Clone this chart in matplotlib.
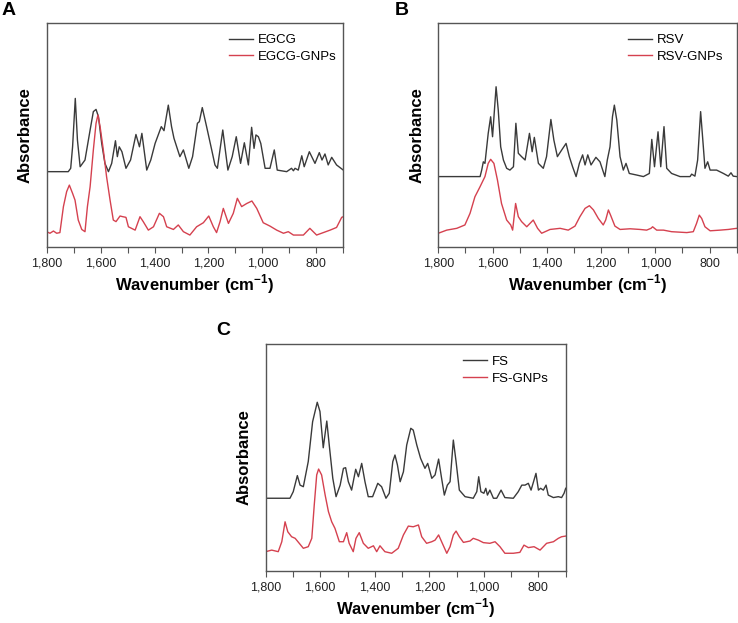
import matplotlib
matplotlib.use("Agg")
import matplotlib.pyplot as plt
from matplotlib.ticker import MultipleLocator, FuncFormatter

plt.rcParams['font.family'] = ['Liberation Sans', 'DejaVu Sans']
plt.rcParams['mathtext.fontset'] = 'custom'
plt.rcParams['mathtext.rm'] = 'Liberation Sans'
plt.rcParams['mathtext.bf'] = 'Liberation Sans:bold'

# --- Panel A: EGCG ---
egcg_wn = [1800, 1720, 1711, 1704, 1694, 1686, 1676, 1658, 1639, 1627, 1617, 1608, 1596, 1584,
           1571, 1559, 1545, 1538, 1531, 1521, 1506, 1489, 1469, 1456, 1447, 1429, 1414, 1398,
           1375, 1365, 1349, 1337, 1328, 1316, 1306, 1293, 1273, 1259, 1241, 1234, 1223, 1207,
           1188, 1176, 1167, 1147, 1128, 1112, 1097, 1081, 1067, 1052, 1040, 1031, 1024, 1015,
           1006, 990, 972, 956, 945, 910, 892, 885, 879, 867, 854, 845, 826, 805, 789, 779, 768,
           756, 743, 725, 700]
egcg_abs = [33.5, 33.5, 35.0, 44.6, 66.2, 47.6, 35.7, 38.7, 52.1, 60.3, 61.3, 58.0, 46.1, 37.2,
            33.5, 37.2, 47.3, 40.2, 44.6, 42.4, 35.0, 38.7, 50.1, 44.6, 50.6, 34.2, 38.7, 46.1,
            53.6, 51.8, 63.2, 53.6, 48.4, 43.9, 40.2, 43.2, 35.0, 40.2, 55.1, 55.8, 62.1, 53.6,
            43.2, 36.5, 35.0, 52.1, 34.2, 40.2, 49.1, 37.2, 46.4, 36.5, 53.3, 43.9, 49.9, 49.1,
            46.1, 35.0, 35.0, 43.2, 34.2, 33.5, 35.0, 33.9, 35.0, 34.2, 40.6, 35.7, 42.4, 37.2,
            42.0, 38.7, 41.4, 36.5, 39.9, 36.5, 34.2]

egcg_gnp_wn = [1800, 1788, 1775, 1763, 1751, 1738, 1726, 1716, 1704, 1695, 1683, 1670, 1658, 1649,
               1639, 1627, 1617, 1610, 1602, 1590, 1578, 1565, 1553, 1543, 1528, 1518, 1506, 1497,
               1472, 1454, 1442, 1423, 1404, 1382, 1367, 1355, 1330, 1312, 1293, 1269, 1244, 1219,
               1199, 1182, 1170, 1157, 1145, 1126, 1108, 1093, 1077, 1058, 1039, 1021, 997, 972,
               947, 922, 904, 885, 848, 824, 799, 774, 749, 725, 706, 700]
egcg_gnp_abs = [6.7, 6.0, 7.0, 6.0, 6.3, 17.9, 24.6, 27.5, 23.8, 20.8, 11.9, 7.7, 6.7, 17.9,
                26.8, 43.2, 55.1, 58.8, 53.6, 43.2, 31.3, 20.8, 11.9, 11.2, 13.7, 13.4, 13.1, 8.9,
                7.4, 13.4, 11.2, 7.4, 8.9, 14.9, 13.4, 8.9, 7.7, 9.7, 6.7, 5.2, 8.9, 10.7,
                13.7, 8.9, 6.3, 11.2, 17.1, 10.4, 14.9, 21.6, 17.9, 19.3, 20.4, 17.1, 10.7, 9.2,
                7.4, 6.0, 6.7, 5.2, 5.2, 8.2, 5.2, 6.3, 7.4, 8.6, 13.1, 13.4]

# --- Panel B: RSV ---
rsv_wn = [1800, 1646, 1640, 1634, 1628, 1616, 1607, 1600, 1587, 1579, 1570, 1560, 1548, 1536,
          1523, 1514, 1505, 1493, 1480, 1464, 1454, 1446, 1431, 1413, 1401, 1385, 1374, 1361,
          1345, 1329, 1317, 1305, 1292, 1280, 1268, 1259, 1249, 1237, 1219, 1204, 1186, 1177,
          1167, 1158, 1151, 1142, 1130, 1118, 1108, 1096, 1069, 1044, 1022, 1013, 1003, 990,
          980, 968, 958, 940, 909, 872, 866, 854, 844, 833, 823, 817, 807, 798, 774, 749, 731,
          721, 713, 700]
rsv_abs = [31.3, 31.3, 34.2, 37.9, 37.2, 50.6, 58.0, 49.1, 71.4, 61.0, 44.6, 38.7, 35.0, 34.2,
           35.7, 55.1, 41.7, 40.2, 38.7, 50.6, 42.4, 48.8, 37.2, 35.0, 40.2, 56.8, 47.6, 40.2,
           43.2, 46.1, 40.2, 35.7, 31.3, 37.2, 41.0, 36.5, 41.0, 36.5, 39.9, 37.9, 31.3, 38.7,
           44.6, 58.0, 63.2, 56.5, 40.2, 34.2, 37.2, 32.7, 32.0, 31.3, 32.7, 47.9, 35.7, 51.3,
           35.7, 53.6, 35.0, 32.7, 31.3, 31.3, 32.4, 31.5, 38.7, 60.3, 44.6, 35.0, 37.9, 34.2,
           34.2, 32.7, 31.5, 33.0, 31.5, 31.3]

rsv_gnp_wn = [1800, 1769, 1732, 1702, 1683, 1665, 1646, 1628, 1616, 1607, 1595, 1582, 1567, 1548,
              1533, 1526, 1515, 1505, 1493, 1474, 1450, 1434, 1419, 1388, 1351, 1321, 1296, 1278,
              1259, 1243, 1228, 1210, 1192, 1183, 1173, 1165, 1149, 1130, 1093, 1056, 1032, 1016,
              1010, 995, 970, 940, 884, 860, 848, 838, 829, 817, 798, 761, 731, 700]
rsv_gnp_abs = [6.0, 7.4, 8.2, 9.7, 14.9, 22.3, 26.8, 31.3, 37.2, 39.0, 37.2, 29.8, 19.3, 11.9,
               9.7, 7.4, 19.3, 13.4, 11.2, 8.9, 11.9, 8.2, 6.0, 7.7, 8.2, 7.4, 9.2, 13.4,
               17.1, 18.3, 16.4, 12.6, 9.7, 11.9, 16.4, 14.1, 9.2, 7.7, 8.0, 7.7, 7.4, 8.2,
               8.9, 7.4, 7.4, 6.7, 6.3, 6.7, 10.4, 14.1, 12.6, 8.9, 7.1, 7.4, 7.7, 8.2]

# --- Panel C: FS ---
fs_wn = [1800, 1711, 1699, 1684, 1674, 1662, 1644, 1628, 1611, 1601, 1589, 1576, 1567, 1554,
         1542, 1527, 1515, 1507, 1497, 1485, 1470, 1460, 1448, 1436, 1424, 1408, 1389, 1375,
         1359, 1347, 1334, 1326, 1317, 1307, 1295, 1283, 1268, 1259, 1246, 1232, 1216, 1206,
         1191, 1179, 1166, 1155, 1145, 1134, 1124, 1112, 1102, 1090, 1069, 1039, 1026, 1019,
         1011, 1000, 993, 987, 978, 965, 953, 937, 923, 892, 874, 861, 849, 837, 827, 816, 809,
         800, 792, 782, 772, 764, 745, 727, 715, 706, 700]
fs_abs = [32.0, 32.0, 34.9, 42.0, 37.8, 37.1, 48.2, 65.8, 74.4, 70.3, 54.3, 66.1, 55.5, 40.8,
          32.7, 37.8, 45.2, 45.5, 39.3, 35.6, 44.8, 41.5, 47.4, 39.3, 32.7, 32.7, 38.6, 37.1,
          32.0, 34.2, 48.2, 51.1, 46.7, 39.3, 43.7, 55.5, 62.9, 62.1, 55.5, 49.6, 45.2, 47.4,
          40.8, 42.3, 49.3, 40.8, 33.4, 37.8, 39.3, 57.7, 48.2, 35.6, 32.7, 32.0, 34.9, 41.5,
          34.9, 34.2, 36.4, 33.4, 35.6, 32.0, 32.0, 35.6, 32.3, 32.0, 34.9, 37.8, 37.8, 38.6,
          35.6, 40.1, 43.0, 35.6, 36.4, 35.6, 37.8, 33.4, 32.3, 32.7, 32.3, 34.2, 36.4]

fs_gnp_wn = [1800, 1778, 1754, 1741, 1729, 1719, 1705, 1692, 1677, 1662, 1644, 1631, 1622, 1613,
             1606, 1595, 1582, 1570, 1558, 1546, 1530, 1515, 1503, 1494, 1479, 1469, 1457, 1442,
             1424, 1405, 1393, 1381, 1363, 1338, 1314, 1295, 1277, 1259, 1240, 1228, 1210, 1191,
             1179, 1166, 1155, 1136, 1124, 1112, 1102, 1090, 1075, 1051, 1039, 1020, 1002, 978,
             959, 941, 923, 892, 868, 853, 837, 816, 794, 770, 745, 727, 715, 700]
fs_gnp_abs = [8.4, 9.1, 8.4, 12.8, 21.6, 17.2, 15.0, 14.3, 12.1, 9.9, 10.6, 14.3, 29.0, 42.3,
              44.9, 42.3, 33.4, 26.1, 21.6, 18.7, 12.8, 12.8, 16.8, 12.1, 8.4, 14.3, 16.8, 12.1,
              9.9, 11.0, 8.4, 11.0, 8.4, 7.7, 9.9, 15.8, 19.7, 19.4, 20.2, 15.0, 12.1, 12.8,
              13.5, 15.8, 12.8, 7.7, 10.6, 15.8, 17.5, 15.0, 12.5, 13.1, 14.3, 13.5, 12.4, 12.1,
              12.8, 10.6, 7.7, 7.7, 8.1, 11.3, 10.2, 10.6, 9.1, 12.1, 12.8, 14.3, 15.0, 15.3]

dark = '#3a3a3a'
red = '#d5414f'

fig = plt.figure(figsize=(7.38, 6.23), dpi=100)
W, H = 738, 623


def panel(box, letter, letter_xy, x1, y1, x2, y2, names, leg_x):
    l, t, r, b = box
    ax = fig.add_axes([l / W, 1 - b / H, (r - l) / W, (b - t) / H])
    ax.plot(x1, y1, color=dark, lw=1.0, label=names[0])
    ax.plot(x2, y2, color=red, lw=1.0, label=names[1])
    ax.set_xlim(1800, 700)
    ax.set_ylim(0, 100)
    ax.set_yticks([])
    ax.xaxis.set_major_locator(MultipleLocator(200))
    ax.xaxis.set_minor_locator(MultipleLocator(100))
    ax.xaxis.set_major_formatter(FuncFormatter(lambda v, p: f'{int(v):,}'))
    ax.tick_params(axis='x', which='both', direction='out', length=4, width=0.8,
                   color='#555555', labelsize=9, pad=4, labelcolor='#222222')
    for s in ax.spines.values():
        s.set_color('#555555')
        s.set_linewidth(1.0)
    ax.set_xlabel(r'Wavenumber (cm$^{\mathbf{-1}}$)', fontsize=12, fontweight='bold', labelpad=2)
    ax.set_ylabel('Absorbance', fontsize=12, fontweight='bold', labelpad=10)
    ax.legend(loc='upper left', bbox_to_anchor=(leg_x, 0.95), frameon=False, fontsize=9.5,
              handlelength=1.8, handletextpad=0.35, labelspacing=0.35, borderpad=0,
              borderaxespad=0)
    fig.text(letter_xy[0] / W, 1 - letter_xy[1] / H, letter, fontsize=14, fontweight='bold',
             ha='left', va='top')
    return ax


panel((46.7, 22.7, 343.3, 246.7), 'A', (2, 2), egcg_wn, egcg_abs, egcg_gnp_wn, egcg_gnp_abs,
      ['EGCG', 'EGCG-GNPs'], 0.615)
panel((438.3, 22.7, 736.7, 246.7), 'B', (395, 2), rsv_wn, rsv_abs, rsv_gnp_wn, rsv_gnp_abs,
      ['RSV', 'RSV-GNPs'], 0.636)
panel((265.7, 344.3, 565.7, 570.7), 'C', (216, 322), fs_wn, fs_abs, fs_gnp_wn, fs_gnp_abs,
      ['FS', 'FS-GNPs'], 0.658)

fig.savefig('out.png', dpi=100)
